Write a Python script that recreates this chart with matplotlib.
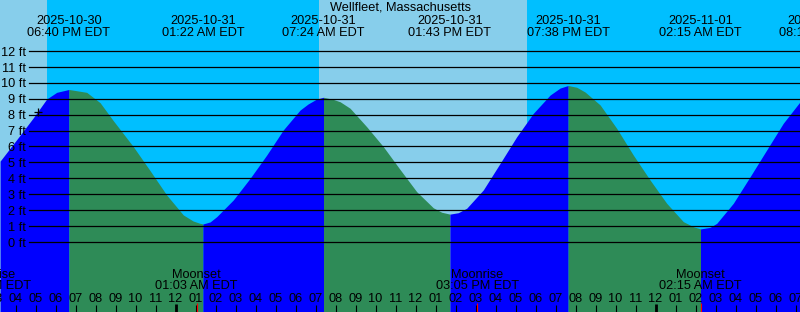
import numpy as np
import matplotlib.pyplot as plt

# hours counted from 2025-10-30 00:00 EDT, water level in feet
tide_hours = [15.23, 16.06, 16.89, 17.56, 18.06, 18.67, 19.56, 20.23, 20.89, 21.89,
              22.73, 23.56, 24.39, 24.88, 25.23, 25.37, 25.73, 26.06, 26.89, 27.73,
              28.56, 29.39, 30.23, 30.63, 31.06, 31.40, 31.88, 32.23, 32.73, 33.56,
              34.39, 35.23, 36.06, 36.89, 37.31, 37.72, 38.14, 38.56, 39.39, 40.23,
              41.06, 41.89, 42.73, 43.23, 43.63, 44.06, 44.48, 45.23, 46.06, 46.89,
              47.73, 48.56, 49.39, 49.89, 50.25, 50.73, 51.06, 51.89, 52.73, 53.56,
              54.39, 55.23]
tide_feet = [5.08, 6.43, 7.80, 8.98, 9.40, 9.58, 9.40, 8.75, 7.62, 5.99,
             4.48, 2.95, 1.70, 1.32, 1.17, 1.13, 1.26, 1.59, 2.64, 4.00,
             5.46, 7.04, 8.29, 8.67, 8.98, 9.09, 8.96, 8.81, 8.40, 7.24,
             5.99, 4.55, 3.16, 2.15, 1.87, 1.75, 1.84, 2.12, 3.27, 4.94,
             6.61, 8.08, 9.23, 9.67, 9.83, 9.72, 9.42, 8.61, 7.14, 5.46,
             3.89, 2.43, 1.28, 0.96, 0.82, 0.92, 1.17, 2.43, 4.10, 5.78,
             7.46, 8.81]

event_hours = [18.67, 25.37, 31.40, 37.72, 43.63, 50.25, 56.22]
event_dates = ['2025-10-30', '2025-10-31', '2025-10-31', '2025-10-31',
               '2025-10-31', '2025-11-01', '2025-11-01']
event_times = ['06:40 PM EDT', '01:22 AM EDT', '07:24 AM EDT', '01:43 PM EDT',
               '07:38 PM EDT', '02:15 AM EDT', '08:13 AM EDT']

moon_hours = [14.68, 25.05, 39.08, 50.25]
moon_names = ['Moonrise', 'Moonset', 'Moonrise', 'Moonset']
moon_times = ['02:41 PM EDT', '01:03 AM EDT', '03:05 PM EDT', '02:15 AM EDT']

# daylight intervals
day_start = [15.0, 31.17]
day_end = [17.58, 41.57]

foot_levels = list(range(0, 13))
hour_ticks = list(range(15, 57))
midnights = [24, 48]

title = 'Wellfleet, Massachusetts'

plt.rcParams['font.family'] = ['Liberation Sans', 'DejaVu Sans']
fs = 9.2
H = 312.0

fig = plt.figure(figsize=(8, 3.12), dpi=100)
ax = fig.add_axes([0, 0, 1, 1])
ax.set_xlim(15.225, 55.225)
ax.set_ylim(-4.397, 15.201)
ax.set_xticks([])
ax.set_yticks([])
for s in ax.spines.values():
    s.set_visible(False)
ax.set_facecolor('#00BFFF')

for a, b in zip(day_start, day_end):
    ax.axvspan(a, b, color='#87CEEB', lw=0, zorder=0)

# tide fill, blue while rising, green while falling
h = np.array(tide_hours)
f = np.array(tide_feet)
d = np.sign(np.diff(f))
cuts = [0] + [i for i in range(1, len(f) - 1) if d[i - 1] != d[i]] + [len(f) - 1]
for i, j in zip(cuts[:-1], cuts[1:]):
    col = '#0000FF' if f[j] > f[i] else '#2E8B57'
    ax.fill_between(h[i:j + 1], f[i:j + 1], -4.397, color=col, lw=0, zorder=1)

for lv in foot_levels:
    ax.axhline(lv, xmin=29 / 800, xmax=1, color='black', lw=0.9, zorder=2)
    ax.text(26 / 800, lv - 4.7 / 15.92, '%d ft' % lv, transform=ax.get_yaxis_transform(),
            ha='right', va='baseline', fontsize=fs, color='black', zorder=3)

ax.plot(17.1, 8.18, marker='+', ms=6, mew=0.9, color='black', zorder=3)

xt = ax.get_xaxis_transform()
ax.text(0.5, 1 - 11 / H, title, transform=ax.transAxes, ha='center', va='baseline',
        fontsize=fs, color='black', zorder=3)
for t, dt, tm in zip(event_hours, event_dates, event_times):
    ax.text(t, 1 - 24.3 / H, dt, transform=xt, ha='center', va='baseline', fontsize=fs, zorder=3)
    ax.text(t, 1 - 36 / H, tm, transform=xt, ha='center', va='baseline', fontsize=fs, zorder=3)

for t, nm, tm in zip(moon_hours, moon_names, moon_times):
    ax.text(t, 1 - 278.3 / H, nm, transform=xt, ha='center', va='baseline', fontsize=fs, zorder=3)
    ax.text(t, 1 - 289.3 / H, tm, transform=xt, ha='center', va='baseline', fontsize=fs, zorder=3)

for hr in hour_ticks:
    ax.text(hr, 1 - 302.3 / H, '%02d' % ((hr - 1) % 12 + 1), transform=xt,
            ha='center', va='baseline', fontsize=fs, zorder=3)
ax.vlines(hour_ticks, 0, 7 / H, transform=xt, color='black', lw=0.8, zorder=3)
ax.vlines(midnights, 0, 8 / H, transform=xt, color='black', lw=2, zorder=3)
ax.vlines(moon_hours, 0, 9 / H, transform=xt, color='red', lw=0.8, zorder=4)

fig.savefig('out.png', dpi=100)
